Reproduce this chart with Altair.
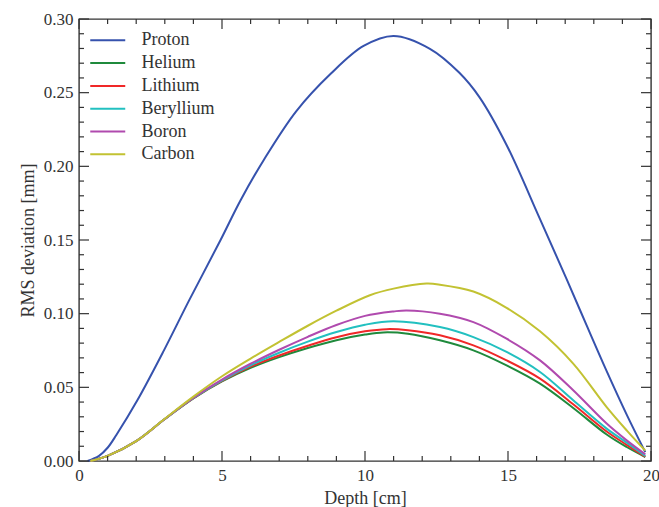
import altair as alt
import pandas as pd

# ---- series data: depth [cm] and RMS deviation [mm] per ion ----
ions = ["Proton", "Helium", "Lithium", "Beryllium", "Boron", "Carbon"]
colors = ["#3652ad", "#1f8a3c", "#f02828", "#22c0c0", "#b04aae", "#c2c232"]

proton_depth = [0.3, 0.7, 1.0, 1.3, 2.04, 2.97, 3.85, 4.95, 5.65, 6.45, 7.6,
                8.8, 9.95, 11.0, 12.27, 13.3, 14.0, 14.95, 16.1, 17.05, 17.75,
                18.45, 19.15, 19.8]
proton_rms = [0.0, 0.0035, 0.009, 0.0175, 0.0412, 0.0751, 0.109, 0.150, 0.177,
              0.204, 0.2375, 0.2628, 0.2817, 0.2885, 0.2798, 0.2635, 0.247,
              0.2145, 0.165, 0.1235, 0.092, 0.061, 0.0315, 0.006]

helium_depth = [0.4, 1, 2, 3, 4, 5, 6, 7, 8, 9, 10, 10.64, 11.5, 12.62, 13.79,
                14.95, 16.12, 17.28, 18.45, 19.15, 19.8]
helium_rms = [0.0, 0.0035, 0.0135, 0.0285, 0.0425, 0.0540, 0.0632, 0.0705,
              0.0767, 0.0820, 0.0858, 0.0873, 0.0864, 0.0819, 0.0751, 0.0649,
              0.0525, 0.0360, 0.0180, 0.0095, 0.0027]

lithium_depth = [0.4, 1, 2, 3, 4, 5, 6, 7, 8, 9, 10, 10.76, 11.5, 12.62, 13.79,
                 14.95, 16.12, 17.28, 18.45, 19.15, 19.8]
lithium_rms = [0.0, 0.0035, 0.0135, 0.0285, 0.0426, 0.0543, 0.0640, 0.0716,
               0.0782, 0.0840, 0.0880, 0.0895, 0.0888, 0.0853, 0.0785, 0.0683,
               0.0559, 0.0385, 0.0200, 0.0110, 0.0030]

beryllium_depth = [0.4, 1, 2, 3, 4, 5, 6, 7, 8, 9, 10, 11.0, 12.62, 13.79, 14.95,
                   16.12, 17.28, 18.45, 19.15, 19.8]
beryllium_rms = [0.0, 0.0035, 0.0135, 0.0285, 0.0428, 0.0548, 0.0650, 0.0735,
                 0.0810, 0.0875, 0.0925, 0.0949, 0.0909, 0.0841, 0.0740, 0.0604,
                 0.0412, 0.0220, 0.0125, 0.0035]

boron_depth = [0.4, 1, 2, 3, 4, 5, 6, 7, 8, 9, 10, 11.0, 11.45, 12.62, 13.79,
               14.95, 16.12, 17.28, 18.45, 19.15, 19.8]
boron_rms = [0.0, 0.0035, 0.0135, 0.0285, 0.0430, 0.0553, 0.0660, 0.0755,
             0.0843, 0.0923, 0.0985, 0.1015, 0.1022, 0.1000, 0.0943, 0.0830,
             0.0683, 0.0480, 0.0254, 0.0140, 0.0045]

carbon_depth = [0.4, 1, 2, 3, 4, 5, 6, 7, 8, 9, 10.17, 11.0, 12.15, 12.62, 13.79,
                14.95, 16.12, 17.28, 18.45, 19.15, 19.8]
carbon_rms = [0.0, 0.0035, 0.0135, 0.0287, 0.0437, 0.0575, 0.0695, 0.0808,
              0.0918, 0.1020, 0.1125, 0.1170, 0.1204, 0.1197, 0.1150, 0.1040,
              0.0880, 0.0661, 0.0366, 0.0208, 0.0070]

# axis tick positions
x_major = [0, 5, 10, 15, 20]
x_minor = [v for v in range(1, 20) if v % 5 != 0]
y_major = [0.0, 0.05, 0.10, 0.15, 0.20, 0.25, 0.30]
y_minor = [round(0.01 * k, 2) for k in range(1, 30) if k % 5 != 0]

series = [
    ("Proton", proton_depth, proton_rms),
    ("Helium", helium_depth, helium_rms),
    ("Lithium", lithium_depth, lithium_rms),
    ("Beryllium", beryllium_depth, beryllium_rms),
    ("Boron", boron_depth, boron_rms),
    ("Carbon", carbon_depth, carbon_rms),
]
rows = []
for name, depth, rms in series:
    for d, r in zip(depth, rms):
        rows.append({"ion": name, "depth": d, "rms": r})
df = pd.DataFrame(rows)

W, H = 572, 442
FONT = "Liberation Serif"
INK = "#333333"

x_scale = alt.Scale(domain=[0, 20], nice=False, zero=False)
y_scale = alt.Scale(domain=[0, 0.30], nice=False)
x_axis = alt.Axis(values=x_major, format="d", title="Depth [cm]",
                  labelPadding=6, titlePadding=6)
y_axis = alt.Axis(values=y_major, format=".2f", title="RMS deviation [mm]",
                  labelPadding=6, titlePadding=6)

# legend key: a horizontal line twice as long as the nominal symbol size
legend_line = "M-2,0L2,0"

lines = alt.Chart(df).mark_line(strokeWidth=2, interpolate="catmull-rom").encode(
    x=alt.X("depth:Q", scale=x_scale, axis=x_axis),
    y=alt.Y("rms:Q", scale=y_scale, axis=y_axis),
    color=alt.Color("ion:N", sort=ions,
                    scale=alt.Scale(domain=ions, range=colors),
                    legend=alt.Legend(title=None, orient="none",
                                      legendX=18.75, legendY=11.3,
                                      direction="vertical",
                                      symbolType=legend_line, symbolSize=306,
                                      symbolStrokeWidth=2,
                                      labelFont=FONT, labelFontSize=18,
                                      labelColor=INK, labelOffset=23.75,
                                      rowPadding=3.8)),
)


def tick_layer(vals, channel, side, length):
    """Inward-pointing tick marks drawn along one edge of the frame."""
    tdf = pd.DataFrame({"t": vals})
    base = alt.Chart(tdf).mark_rule(color=INK, strokeWidth=1.2)
    if channel == "x":
        pos = alt.X("t:Q", scale=x_scale, axis=x_axis)
        if side == "bottom":
            return base.encode(x=pos, y=alt.value(H), y2=alt.value(H - length))
        return base.encode(x=pos, y=alt.value(0), y2=alt.value(length))
    pos = alt.Y("t:Q", scale=y_scale, axis=y_axis)
    if side == "left":
        return base.encode(y=pos, x=alt.value(0), x2=alt.value(length))
    return base.encode(y=pos, x=alt.value(W), x2=alt.value(W - length))


ticks = [
    tick_layer(x_major, "x", "bottom", 10), tick_layer(x_minor, "x", "bottom", 5),
    tick_layer(x_major, "x", "top", 10), tick_layer(x_minor, "x", "top", 5),
    tick_layer(y_major, "y", "left", 10), tick_layer(y_minor, "y", "left", 5),
    tick_layer(y_major, "y", "right", 10), tick_layer(y_minor, "y", "right", 5),
]

chart = alt.layer(lines, *ticks).properties(
    width=W, height=H,
    autosize=alt.AutoSizeParams(type="none"),
    padding={"left": 79, "top": 19, "right": 8, "bottom": 46},
    background="white",
).configure_view(
    stroke=INK, strokeWidth=1.4
).configure_axis(
    ticks=False, domain=False, grid=False, labelFlush=False,
    labelFont=FONT, labelFontSize=17, labelColor=INK,
    titleFont=FONT, titleFontSize=18, titleFontWeight="normal", titleColor=INK,
)

chart.save("out.html", embed_options={"renderer": "svg", "actions": False})
